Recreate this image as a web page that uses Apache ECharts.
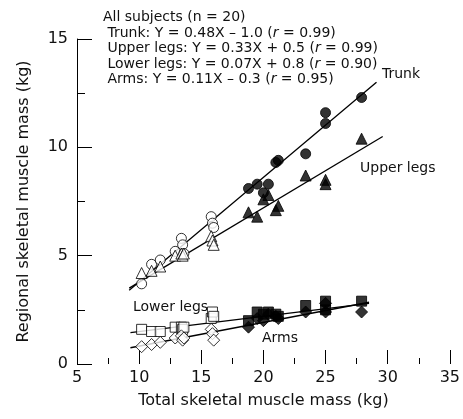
<!DOCTYPE html>
<html>
<head>
<meta charset="utf-8">
<script src="https://cdn.jsdelivr.net/npm/echarts@6/dist/echarts.min.js"></script>
<style>
  html, body { margin: 0; padding: 0; background: #fff; }
  #chart { width: 463px; height: 419px; }
</style>
</head>
<body>
<div id="chart"></div>
<script>
  // total skeletal muscle mass (kg) per subject, open-symbol group and filled-symbol group
  const totalOpen   = [10.2, 11.0, 11.7, 12.9, 13.4, 13.5, 13.6, 15.8, 15.9, 16.0];
  const totalFilled = [18.8, 19.5, 20.0, 20.4, 21.0, 21.2, 23.4, 25.0, 25.0, 27.9];

  // regional masses (kg), same subject order
  const trunkOpen   = [3.7, 4.6, 4.8, 5.2, 5.8, 5.5, 5.1, 6.8, 6.5, 6.3];
  const trunkFilled = [8.1, 8.3, 7.9, 8.3, 9.3, 9.4, 9.7, 11.6, 11.1, 12.3];

  const upperOpen   = [4.2, 4.3, 4.5, 5.0, 5.1, 5.0, 5.1, 5.9, 5.7, 5.5];
  const upperFilled = [7.0, 6.8, 7.6, 7.8, 7.1, 7.3, 8.7, 8.5, 8.3, 10.4];

  const lowerOpen   = [1.6, 1.5, 1.5, 1.7, 1.7, 1.6, 1.7, 2.1, 2.4, 2.2];
  const lowerFilled = [2.0, 2.4, 2.3, 2.4, 2.3, 2.2, 2.7, 2.9, 2.5, 2.9];

  const armsOpen    = [0.8, 0.9, 1.0, 1.2, 1.3, 1.1, 1.2, 1.6, 1.4, 1.1];
  const armsFilled  = [1.7, 2.1, 2.0, 2.3, 2.2, 2.1, 2.4, 2.8, 2.4, 2.4];

  // regression line end points
  const trunkFit = [[9.2, 3.4], [29.1, 13.0]];
  const upperFit = [[9.2, 3.5], [29.6, 10.5]];
  const lowerFit = [[9.3, 1.45], [28.5, 2.8]];
  const armsFit  = [[9.3, 0.75], [28.5, 2.85]];

  const xTicks = [5, 10, 15, 20, 25, 30, 35];
  const yTicks = [0, 5, 10, 15];

  const FONT = 'DejaVu Sans';
  const INK = '#111';

  function pairs(xs, ys) {
    return xs.map((x, i) => [x, ys[i]]);
  }

  function scatter(xs, ys, symbol, size, filled) {
    return {
      type: 'scatter',
      data: pairs(xs, ys),
      symbol: symbol,
      symbolSize: size,
      z: 5,
      itemStyle: {
        color: filled ? '#000' : '#fff',
        borderColor: '#000',
        borderWidth: 1
      },
      silent: true
    };
  }

  function fitLine(pts) {
    return {
      type: 'line',
      data: pts,
      symbol: 'none',
      z: 2,
      lineStyle: { color: '#000', width: 1.3 },
      silent: true
    };
  }

  const chart = echarts.init(document.getElementById('chart'));

  const option = {
    animation: false,
    textStyle: { fontFamily: FONT },
    grid: { left: 77, right: 11, top: 39, bottom: 55 },
    xAxis: {
      type: 'value',
      min: xTicks[0],
      max: xTicks[xTicks.length - 1],
      interval: 5,
      name: 'Total skeletal muscle mass (kg)',
      nameLocation: 'middle',
      nameGap: 29,
      nameTextStyle: { fontSize: 16, color: INK, fontFamily: FONT },
      axisLine: { show: false },
      axisTick: { inside: true, length: 14, lineStyle: { color: '#000' } },
      minorTick: { show: true, splitNumber: 2, length: 6, lineStyle: { color: '#000' } },
      splitLine: { show: false },
      axisLabel: { fontSize: 16, color: INK, margin: 6, fontFamily: FONT }
    },
    yAxis: {
      type: 'value',
      min: yTicks[0],
      max: yTicks[yTicks.length - 1],
      interval: 5,
      name: 'Regional skeletal muscle mass (kg)',
      nameLocation: 'middle',
      nameGap: 45,
      nameTextStyle: { fontSize: 16, color: INK, fontFamily: FONT },
      axisLine: { show: true, lineStyle: { color: '#000', width: 1 } },
      axisTick: { inside: true, length: 15, lineStyle: { color: '#000' } },
      minorTick: { show: true, splitNumber: 2, length: 8, lineStyle: { color: '#000' } },
      splitLine: { show: false },
      axisLabel: { fontSize: 16, color: INK, margin: 9, fontFamily: FONT }
    },
    graphic: [
      {
        type: 'text', left: 103, top: 10,
        style: {
          text: 'All subjects (n = 20)\n' +
                ' Trunk: Y = 0.48X \u2013 1.0 ({i|r} = 0.99)\n' +
                ' Upper legs: Y = 0.33X + 0.5 ({i|r} = 0.99)\n' +
                ' Lower legs: Y = 0.07X + 0.8 ({i|r} = 0.90)\n' +
                ' Arms: Y = 0.11X \u2013 0.3 ({i|r} = 0.95)',
          font: '14px ' + FONT,
          fill: INK,
          lineHeight: 15.5,
          rich: { i: { fontStyle: 'italic', fontSize: 14, fontFamily: FONT } }
        }
      },
      { type: 'text', left: 382, top: 67, style: { text: 'Trunk', font: '14px ' + FONT, fill: INK } },
      { type: 'text', left: 360, top: 161, style: { text: 'Upper legs', font: '14px ' + FONT, fill: INK } },
      { type: 'text', left: 133, top: 300, style: { text: 'Lower legs', font: '14px ' + FONT, fill: INK } },
      { type: 'text', left: 262, top: 331, style: { text: 'Arms', font: '14px ' + FONT, fill: INK } }
    ],
    series: [
      fitLine(trunkFit),
      fitLine(upperFit),
      fitLine(lowerFit),
      fitLine(armsFit),
      scatter(totalOpen, trunkOpen, 'circle', 10, false),
      scatter(totalFilled, trunkFilled, 'circle', 10, true),
      scatter(totalOpen, upperOpen, 'triangle', 11, false),
      scatter(totalFilled, upperFilled, 'triangle', 11, true),
      scatter(totalOpen, lowerOpen, 'rect', 10, false),
      scatter(totalFilled, lowerFilled, 'rect', 10, true),
      scatter(totalOpen, armsOpen, 'diamond', 12, false),
      scatter(totalFilled, armsFilled, 'diamond', 12, true)
    ]
  };

  chart.setOption(option);
</script>
</body>
</html>
